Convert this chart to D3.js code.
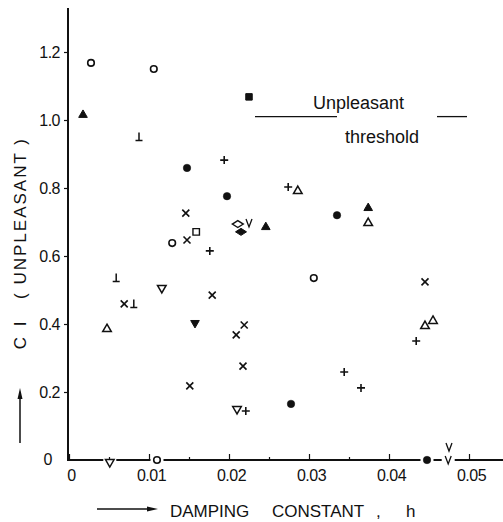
<!DOCTYPE html>
<html>
<head>
<meta charset="utf-8">
<script src="https://cdn.jsdelivr.net/npm/d3@7"></script>
<style>
  body { margin: 0; background: #fff; }
  text { font-family: "Liberation Sans", Arial, sans-serif; fill: #111; }
</style>
</head>
<body>
<div id="chart"></div>
<script>
// axis ticks
const hTicks = [0, 0.01, 0.02, 0.03, 0.04, 0.05];
const hTickLabels = ["0", "0.01", "0.02", "0.03", "0.04", "0.05"];
const hMinorTicks = [0.005, 0.015, 0.025, 0.035, 0.045];
const ciTicks = [0, 0.2, 0.4, 0.6, 0.8, 1.0, 1.2];
const ciTickLabels = ["0", "0.2", "0.4", "0.6", "0.8", "1.0", "1.2"];

// threshold (CI = 1.0 line, drawn in two pieces around the text)
const thresholdCI = 1.01;
const thresholdPieces = [[0.02325, 0.0335], [0.046, 0.04975]];

// data points [h, CI], one array per marker
const openCircle = [[0.00275, 1.168], [0.0106, 1.15], [0.0129, 0.638], [0.0306, 0.535], [0.011, 0]];
const filledCircle = [[0.01475, 0.859], [0.01975, 0.776], [0.0335, 0.72], [0.02775, 0.165], [0.04475, 0]];
const openTriUp = [[0.0286, 0.791], [0.0374, 0.697], [0.00475, 0.385], [0.0445, 0.394], [0.0455, 0.409]];
const filledTriUp = [[0.00175, 1.015], [0.0374, 0.741], [0.0246, 0.685]];
const openTriDown = [[0.0116, 0.506], [0.021, 0.15], [0.0051, -0.006]];
const filledTriDown = [[0.01575, 0.403]];
const plusPts = [[0.0194, 0.882], [0.0274, 0.803], [0.0176, 0.615], [0.0221, 0.144], [0.0434, 0.35], [0.0344, 0.259], [0.0365, 0.212]];
const crossPts = [[0.0146, 0.726], [0.01475, 0.647], [0.0179, 0.485], [0.0219, 0.397], [0.0209, 0.368], [0.02175, 0.276], [0.0151, 0.218], [0.0069, 0.459], [0.0445, 0.524]];
const upTackPts = [[0.00875, 0.95], [0.0059, 0.535], [0.0081, 0.459]];
const openSquarePts = [[0.0159, 0.671]];
const filledSquarePts = [[0.0225, 1.068]];
const openDiamondPts = [[0.0211, 0.694]];
const filledDiamondPts = [[0.0215, 0.671]];
const vPts = [[0.0225, 0.697], [0.0475, 0.038], [0.0474, 0]];

const width = 503, height = 522;

const svg = d3.select("#chart").append("svg")
  .attr("width", width)
  .attr("height", height);

const x = d3.scaleLinear().domain([0, 0.05]).range([69, 469]);
const y = d3.scaleLinear().domain([0, 1.2]).range([460, 52]);
const axisX = 68;

// X axis: minor ticks
svg.append("g")
  .attr("transform", `translate(0,${y(0)})`)
  .call(d3.axisBottom(x).tickValues(hMinorTicks).tickSizeInner(-3).tickSizeOuter(0).tickFormat(""))
  .call(g => g.select(".domain").remove())
  .call(g => g.selectAll("line").attr("stroke", "#111").attr("stroke-width", 1.2));

// X axis: major ticks + labels
svg.append("g")
  .attr("transform", `translate(0,${y(0)})`)
  .call(d3.axisBottom(x).tickValues(hTicks).tickSizeInner(-6).tickSizeOuter(0).tickPadding(10)
    .tickFormat((d, i) => hTickLabels[i]))
  .call(g => g.select(".domain").remove())
  .call(g => g.selectAll("line").attr("stroke", "#111").attr("stroke-width", 1.2))
  .call(g => g.selectAll("text")
    .attr("font-size", 16)
    .attr("font-family", "Liberation Sans, Arial, sans-serif")
    .attr("fill", "#111")
    .attr("letter-spacing", -0.5)
    .attr("dx", 2));

// X axis line with gaps where markers sit on it
const onAxis = [...openCircle, ...filledCircle, ...openTriDown, ...vPts]
  .filter(d => Math.abs(d[1]) < 0.01)
  .map(d => x(d[0]))
  .sort((a, b) => a - b);
let start = axisX;
const gap = 6.5;
const segs = [];
onAxis.forEach(px => {
  if (px - gap > start) segs.push([start, px - gap]);
  start = Math.max(start, px + gap);
});
segs.push([start, width]);
svg.append("g").selectAll("line").data(segs).enter().append("line")
  .attr("x1", d => d[0]).attr("x2", d => d[1])
  .attr("y1", y(0)).attr("y2", y(0))
  .attr("stroke", "#111").attr("stroke-width", 2);

// Y axis
svg.append("g")
  .attr("transform", `translate(${axisX},0)`)
  .call(d3.axisLeft(y).tickValues(ciTicks).tickSizeInner(4).tickSizeOuter(0).tickPadding(4)
    .tickFormat((d, i) => ciTickLabels[i]))
  .call(g => g.select(".domain").remove())
  .call(g => g.selectAll("line").attr("stroke", "#111").attr("stroke-width", 1.2))
  .call(g => g.selectAll(".tick").filter(d => d === 0).select("line").remove())
  .call(g => g.selectAll("text")
    .attr("font-size", 16)
    .attr("font-family", "Liberation Sans, Arial, sans-serif")
    .attr("fill", "#111")
    .attr("letter-spacing", -0.5))
  .call(g => g.selectAll(".tick").filter(d => d === 0).select("text").attr("x", -16).attr("dy", "0.25em"));

svg.append("line")
  .attr("x1", axisX).attr("x2", axisX)
  .attr("y1", 8).attr("y2", y(0) + 1)
  .attr("stroke", "#111").attr("stroke-width", 2);

// Threshold line and text
svg.append("g").selectAll("line").data(thresholdPieces).enter().append("line")
  .attr("x1", d => x(d[0])).attr("x2", d => x(d[1]))
  .attr("y1", y(thresholdCI)).attr("y2", y(thresholdCI))
  .attr("stroke", "#111").attr("stroke-width", 1.3);

svg.append("text").attr("x", 313).attr("y", 109).attr("font-size", 18).text("Unpleasant");
svg.append("text").attr("x", 345).attr("y", 143).attr("font-size", 18).text("threshold");

// Axis titles
svg.append("text")
  .attr("transform", "translate(26,218) rotate(-90)")
  .attr("text-anchor", "middle")
  .attr("font-size", 17)
  .attr("letter-spacing", 2)
  .text("( UNPLEASANT )");
svg.append("text")
  .attr("transform", "translate(26,334) rotate(-90)")
  .attr("text-anchor", "middle")
  .attr("font-size", 17)
  .attr("letter-spacing", 3)
  .text("C I");

svg.append("line").attr("x1", 20).attr("x2", 20).attr("y1", 443).attr("y2", 395)
  .attr("stroke", "#111").attr("stroke-width", 1.5);
svg.append("path").attr("d", "M20,388 L17.5,399 L22.5,399 Z").attr("fill", "#111");

svg.append("line").attr("x1", 97).attr("x2", 150).attr("y1", 509).attr("y2", 509)
  .attr("stroke", "#111").attr("stroke-width", 1.5);
svg.append("path").attr("d", "M158,509 L147,506.5 L147,511.5 Z").attr("fill", "#111");

svg.append("text").attr("x", 170).attr("y", 517).attr("font-size", 17).text("DAMPING");
svg.append("text").attr("x", 272).attr("y", 517).attr("font-size", 17).text("CONSTANT");
svg.append("text").attr("x", 376).attr("y", 517).attr("font-size", 17).text(",");
svg.append("text").attr("x", 406).attr("y", 517).attr("font-size", 17).text("h");

// Markers
const shapes = {
  circleOpen: d3.symbol().type(d3.symbolCircle).size(34)(),
  circleFilled: d3.symbol().type(d3.symbolCircle).size(44)(),
  tri: d3.symbol().type(d3.symbolTriangle).size(32)(),
  square: d3.symbol().type(d3.symbolSquare).size(42)(),
  diamond: "M-5.5,0 L0,-3.5 L5.5,0 L0,3.5 Z",
  plus: "M-4,0 L4,0 M0,-4 L0,4",
  cross: "M-3.5,-3.5 L3.5,3.5 M-3.5,3.5 L3.5,-3.5",
  upTack: "M0,-4.5 L0,3.5 M-3.5,3.5 L3.5,3.5",
  vee: "M-3,-4 L0,4 L3,-4"
};

function drawSeries(data, path, filled, rotate, sw) {
  svg.append("g").selectAll("path").data(data).enter().append("path")
    .attr("d", path)
    .attr("transform", d => `translate(${x(d[0])},${y(d[1])})${rotate ? " rotate(180)" : ""}`)
    .attr("fill", filled ? "#111" : "#fff")
    .attr("fill-opacity", filled ? 1 : 0)
    .attr("stroke", "#111")
    .attr("stroke-width", sw || 1.5);
}

drawSeries(openCircle, shapes.circleOpen, false, false, 1.6);
drawSeries(filledCircle, shapes.circleFilled, true, false, 0.5);
drawSeries(openTriUp, shapes.tri, false, false, 1.5);
drawSeries(filledTriUp, shapes.tri, true, false, 1);
drawSeries(openTriDown, shapes.tri, false, true, 1.5);
drawSeries(filledTriDown, shapes.tri, true, true, 1);
drawSeries(plusPts, shapes.plus, false, false, 1.6);
drawSeries(crossPts, shapes.cross, false, false, 1.6);
drawSeries(upTackPts, shapes.upTack, false, false, 1.5);
drawSeries(openSquarePts, shapes.square, false, false, 1.4);
drawSeries(filledSquarePts, shapes.square, true, false, 1);
drawSeries(openDiamondPts, shapes.diamond, false, false, 1.4);
drawSeries(filledDiamondPts, shapes.diamond, true, false, 1);
drawSeries(vPts, shapes.vee, false, false, 1.3);
</script>
</body>
</html>
